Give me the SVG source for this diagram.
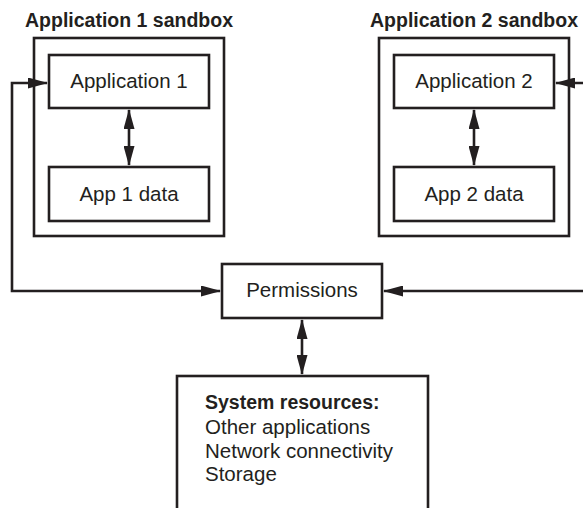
<svg xmlns="http://www.w3.org/2000/svg" width="583" height="508" viewBox="0 0 583 508">
<defs>
<style>
.box{fill:#fff;stroke:#231f20;stroke-width:2.6}
.t{font-family:"Liberation Sans",Arial,sans-serif;font-size:20.5px;fill:#231f20}
.c{text-anchor:middle}
.b{font-weight:bold;font-size:19.5px}
.ln{fill:none;stroke:#231f20;stroke-width:2.6;marker-start:url(#ah);marker-end:url(#ah)}
</style>
<marker id="ah" markerUnits="userSpaceOnUse" viewBox="0 0 20 11" refX="19" refY="5.5" markerWidth="20" markerHeight="11" orient="auto-start-reverse">
<path d="M0,0 L20,5.5 L0,11 z" fill="#231f20"/>
</marker>
</defs>
<rect width="583" height="508" fill="#fff"/>
<g id="sandbox1">
<rect class="box" x="34" y="38" width="190" height="198"/>
<text class="t b" x="25" y="27">Application 1 sandbox</text>
</g>
<g id="sandbox2">
<rect class="box" x="379" y="38" width="190" height="198"/>
<text class="t b" x="370" y="27">Application 2 sandbox</text>
</g>
<g id="app1">
<rect class="box" x="49" y="55" width="160" height="53"/>
<text class="t c" x="129" y="88">Application 1</text>
</g>
<g id="app1data">
<rect class="box" x="49" y="167" width="160" height="54"/>
<text class="t c" x="129" y="201">App 1 data</text>
</g>
<g id="app2">
<rect class="box" x="394" y="55" width="160" height="53"/>
<text class="t c" x="474" y="88">Application 2</text>
</g>
<g id="app2data">
<rect class="box" x="394" y="167" width="160" height="54"/>
<text class="t c" x="474" y="201">App 2 data</text>
</g>
<g id="permissions">
<rect class="box" x="222" y="264" width="160" height="54"/>
<text class="t c" x="302" y="297">Permissions</text>
</g>
<g id="resources">
<rect class="box" x="177" y="376" width="251" height="150"/>
<text class="t b" x="205" y="409">System resources:</text>
<text class="t" x="205" y="434">Other applications</text>
<text class="t" x="205" y="458">Network connectivity</text>
<text class="t" x="205" y="481">Storage</text>
</g>
<g id="connectors">
<path class="ln" d="M129 110 V165"/>
<path class="ln" d="M474 110 V165"/>
<path class="ln" d="M302 320 V374"/>
<path class="ln" d="M220 291 H12 V83 H47"/>
<path class="ln" d="M384 291 H600 V83 H556"/>
</g>
</svg>
